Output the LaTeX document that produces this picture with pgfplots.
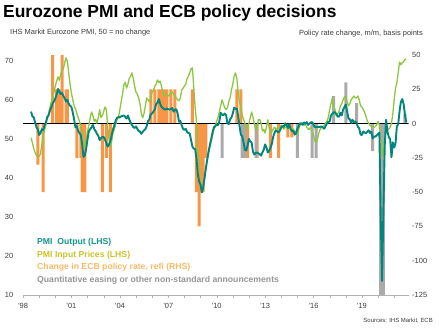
\documentclass[border=0pt]{standalone}
\usepackage{fontspec}
\setmainfont{Liberation Sans}
\usepackage{pgfplots}
\usepackage{pgfplotstable}
\pgfplotsset{compat=1.18}
\definecolor{tealc}{RGB}{0,134,126}
\definecolor{greenc}{RGB}{141,198,63}
\definecolor{orangec}{RGB}{247,150,70}
\definecolor{grayc}{RGB}{170,170,170}
\definecolor{legteal}{RGB}{20,150,140}
\definecolor{legyel}{RGB}{200,195,40}
\definecolor{legora}{RGB}{250,185,100}
\definecolor{leggray}{RGB}{150,150,150}
\definecolor{txt}{RGB}{60,60,60}

\pgfplotstableread{
t out inp
1998.500 57.0 50.3
1998.583 55.8 49.0
1998.667 55.5 47.5
1998.750 54.2 46.5
1998.833 53.0 45.8
1998.917 52.5 45.4
1999.000 51.0 45.5
1999.083 51.5 46.2
1999.167 52.5 48.5
1999.250 52.3 51.0
1999.333 53.4 52.3
1999.417 54.2 53.5
1999.500 55.6 55.0
1999.583 56.0 56.5
1999.667 57.2 58.0
1999.750 58.1 59.5
1999.833 59.0 60.5
1999.917 59.6 62.0
2000.000 60.3 63.5
2000.083 61.4 64.8
2000.167 62.8 65.9
2000.250 62.2 65.0
2000.333 61.5 66.5
2000.417 61.8 67.5
2000.500 61.0 68.0
2000.583 60.4 69.5
2000.667 59.6 70.8
2000.750 60.0 69.8
2000.833 59.0 67.0
2000.917 58.5 64.0
2001.000 58.2 61.8
2001.083 56.8 60.0
2001.167 55.0 58.5
2001.250 53.0 57.8
2001.333 53.3 56.6
2001.417 52.0 55.5
2001.500 51.5 54.5
2001.583 51.0 53.2
2001.667 48.5 51.8
2001.750 45.4 49.0
2001.833 45.8 48.0
2001.917 47.5 49.5
2002.000 50.0 52.0
2002.083 52.0 53.5
2002.167 52.5 55.5
2002.250 53.0 56.9
2002.333 53.6 56.0
2002.417 52.5 54.5
2002.500 52.0 55.0
2002.583 51.3 54.0
2002.667 50.8 55.5
2002.750 49.7 57.5
2002.833 50.2 55.5
2002.917 50.5 56.0
2003.000 50.5 57.0
2003.083 49.8 58.2
2003.167 48.9 57.5
2003.250 48.0 53.0
2003.333 48.6 49.8
2003.417 49.5 48.0
2003.500 51.0 49.5
2003.583 52.5 51.8
2003.667 53.6 52.5
2003.750 54.8 53.8
2003.833 55.4 55.0
2003.917 55.6 55.5
2004.000 55.5 57.5
2004.083 55.8 59.5
2004.167 55.9 61.5
2004.250 56.0 63.8
2004.333 55.7 64.5
2004.417 55.2 63.0
2004.500 56.0 64.0
2004.583 55.0 65.5
2004.667 54.2 66.0
2004.750 53.6 66.9
2004.833 53.0 65.5
2004.917 52.8 63.5
2005.000 53.2 62.0
2005.083 52.6 61.5
2005.167 52.0 60.5
2005.250 51.9 59.0
2005.333 51.3 56.5
2005.417 51.8 55.4
2005.500 52.2 56.5
2005.583 52.5 58.5
2005.667 53.3 60.5
2005.750 54.6 60.0
2005.833 55.0 59.5
2005.917 56.4 60.5
2006.000 56.5 62.0
2006.083 57.0 62.5
2006.167 57.6 63.5
2006.250 58.9 64.0
2006.333 59.3 65.1
2006.417 60.2 64.5
2006.500 59.0 64.8
2006.583 58.2 63.5
2006.667 57.9 62.0
2006.750 57.6 61.0
2006.833 57.5 61.3
2006.917 57.8 61.5
2007.000 57.6 61.0
2007.083 57.5 61.3
2007.167 57.7 61.8
2007.250 57.9 62.0
2007.333 57.0 61.5
2007.417 57.5 61.0
2007.500 57.6 60.5
2007.583 56.5 60.0
2007.667 54.4 59.8
2007.750 54.6 60.5
2007.833 53.5 62.5
2007.917 52.6 63.0
2008.000 52.3 63.5
2008.083 52.6 64.0
2008.167 51.8 65.5
2008.250 51.5 66.0
2008.333 51.4 67.0
2008.417 49.6 68.0
2008.500 48.0 68.2
2008.583 47.5 63.0
2008.667 47.4 58.0
2008.750 45.0 54.4
2008.833 41.0 47.2
2008.917 39.0 41.0
2009.000 38.3 38.5
2009.083 36.3 36.9
2009.167 37.5 37.5
2009.250 40.0 40.0
2009.333 42.5 42.5
2009.417 44.8 44.5
2009.500 46.7 46.5
2009.583 48.5 48.0
2009.667 50.1 49.5
2009.750 51.8 51.0
2009.833 53.0 52.5
2009.917 53.3 53.1
2010.000 53.6 54.5
2010.083 53.5 55.5
2010.167 54.5 57.0
2010.250 56.7 58.5
2010.333 56.2 60.0
2010.417 56.1 59.0
2010.500 56.5 58.0
2010.583 56.1 57.5
2010.667 54.0 58.0
2010.750 53.8 59.5
2010.833 55.0 60.5
2010.917 55.5 62.5
2011.000 56.5 64.0
2011.083 58.0 66.0
2011.167 57.7 66.9
2011.250 57.8 65.5
2011.333 55.8 62.0
2011.417 53.3 59.2
2011.500 51.1 58.5
2011.583 50.7 56.0
2011.667 49.1 55.0
2011.750 47.2 54.0
2011.833 47.0 52.3
2011.917 48.3 53.0
2012.000 50.0 54.0
2012.083 49.3 55.5
2012.167 49.1 56.9
2012.250 46.7 55.5
2012.333 46.0 54.0
2012.417 46.4 52.3
2012.500 46.5 53.0
2012.583 46.3 54.9
2012.667 46.1 55.0
2012.750 45.7 54.0
2012.833 46.5 52.0
2012.917 47.2 52.5
2013.000 48.6 51.5
2013.083 47.9 53.0
2013.167 46.5 54.9
2013.250 46.9 53.0
2013.333 47.7 51.5
2013.417 48.7 51.8
2013.500 50.5 52.5
2013.583 51.5 53.0
2013.667 52.2 52.5
2013.750 51.9 52.8
2013.833 51.7 52.5
2013.917 52.1 53.0
2014.000 52.9 53.5
2014.083 53.3 53.0
2014.167 53.1 52.5
2014.250 54.0 53.0
2014.333 53.5 52.8
2014.417 52.8 53.0
2014.500 53.8 53.2
2014.583 52.5 52.5
2014.667 52.0 52.8
2014.750 52.1 52.5
2014.833 51.1 52.0
2014.917 51.4 51.5
2015.000 52.6 51.0
2015.083 53.3 52.5
2015.167 54.0 53.5
2015.250 53.9 54.0
2015.333 53.6 54.2
2015.417 54.2 53.5
2015.500 53.9 53.8
2015.583 54.3 53.0
2015.667 53.6 52.5
2015.750 53.9 52.5
2015.833 54.2 53.0
2015.917 54.3 52.0
2016.000 53.6 51.0
2016.083 53.0 49.5
2016.167 53.1 49.0
2016.250 53.0 50.0
2016.333 53.1 51.5
2016.417 53.1 52.5
2016.500 53.2 53.0
2016.583 52.9 53.2
2016.667 52.6 53.5
2016.750 53.3 54.0
2016.833 53.9 54.5
2016.917 54.4 55.5
2017.000 54.4 57.5
2017.083 56.0 59.0
2017.167 56.4 60.5
2017.250 56.8 58.5
2017.333 56.8 57.5
2017.417 56.3 56.0
2017.500 55.7 56.5
2017.583 55.7 57.0
2017.667 56.7 58.5
2017.750 56.0 59.0
2017.833 57.5 60.0
2017.917 58.1 60.8
2018.000 58.8 60.8
2018.083 57.1 59.5
2018.167 55.2 58.5
2018.250 55.1 59.0
2018.333 54.1 60.0
2018.417 54.9 60.5
2018.500 54.3 61.0
2018.583 54.5 60.5
2018.667 54.1 60.5
2018.750 53.1 61.0
2018.833 52.7 60.0
2018.917 51.1 58.5
2019.000 51.0 58.2
2019.083 51.9 57.5
2019.167 51.6 56.8
2019.250 51.5 55.8
2019.333 51.8 54.6
2019.417 52.2 54.0
2019.500 51.5 53.5
2019.583 51.9 53.2
2019.667 50.1 53.0
2019.750 50.6 53.0
2019.833 50.6 53.2
2019.917 50.9 53.6
2020.000 51.3 54.5
2020.083 51.6 53.5
2020.167 29.7 48.0
2020.250 13.6 45.4
2020.333 31.9 48.5
2020.417 48.5 50.5
2020.500 54.9 53.0
2020.583 51.9 52.5
2020.667 50.4 52.5
2020.750 50.0 53.0
2020.833 45.3 54.0
2020.917 49.1 56.5
2021.000 47.8 60.0
2021.083 48.8 63.0
2021.167 53.2 64.4
2021.250 53.8 67.0
2021.333 57.1 69.7
2021.417 59.5 69.0
2021.500 60.2 69.5
2021.583 59.0 69.8
2021.667 56.2 70.3
2021.750 54.2 70.5
}\pmi

\begin{document}
\begin{tikzpicture}
\path[use as bounding box] (0,0) rectangle (439bp,-329bp);
% right axis: policy bars
\begin{axis}[
  at={(23bp,-295bp)}, anchor=south west,
  scale only axis, width=385.7bp, height=240bp,
  xmin=1998, xmax=2021.9, ymin=-125, ymax=50,
  axis x line=none, axis y line*=right,
  y axis line style={draw=none},
  ytick={-125,-100,...,50}, ytick style={draw=none},
  major tick length=0pt,
  /pgf/number format/assume math mode=true,
  yticklabel style={anchor=west, inner sep=0pt, xshift=3.3bp,
    font=\fontsize{7.5}{9}\selectfont, text=txt},
]
\addplot[ybar, bar width=3bp, bar shift=0pt, fill=orangec, draw=none] coordinates {
(1998.917,-30) (1999.250,-50) (1999.833,50) (2000.083,25) (2000.167,25)
(2000.250,25) (2000.417,50) (2000.667,25) (2000.750,25) (2001.333,-25)
(2001.583,-25) (2001.667,-50) (2001.833,-50) (2002.917,-50) (2003.167,-25)
(2003.417,-50) (2005.917,25) (2006.167,25) (2006.417,25) (2006.583,25)
(2006.750,25) (2006.917,25) (2007.167,25) (2007.417,25) (2008.500,25)
(2008.750,-50) (2008.833,-50) (2008.917,-75) (2009.000,-50) (2009.167,-50)
(2009.250,-25) (2009.333,-25) (2011.250,25) (2011.500,25) (2011.833,-25)
(2011.917,-25) (2012.500,-25) (2013.333,-25) (2013.833,-25) (2014.417,-10)
(2014.667,-10) (2016.167,-5)};
\addplot[ybar, bar width=3bp, bar shift=0pt, fill=grayc, draw=none] coordinates {
(2010.333,-25) (2011.583,-25) (2011.750,-25) (2012.450,-25) (2015.000,-25)
(2015.917,-25) (2016.167,-25) (2017.250,20) (2018.000,30) (2018.667,15)
(2019.667,-20) (2020.167,-125) (2020.333,-125) (2021.667,7)};
\addplot[black, line width=0.8bp] coordinates {(1998,0) (2021.9,0)};
\end{axis}
% left axis: PMI lines
\begin{axis}[
  at={(23bp,-295bp)}, anchor=south west,
  scale only axis, width=385.7bp, height=240bp,
  xmin=1998, xmax=2021.9, ymin=10, ymax=71.5,
  axis x line*=bottom, axis y line*=left,
  y axis line style={draw=none},
  x axis line style={draw=black!30, -},
  ytick={10,20,...,70}, ytick style={draw=none},
  xtick={1998,2001,2004,2007,2010,2013,2016,2019},
  xticklabels={'98,'01,'04,'07,'10,'13,'16,'19},
  minor xtick={1999,2000,2002,2003,2005,2006,2008,2009,2011,2012,2014,2015,2017,2018,2020,2021},
  xtick style={draw=black!30},
  tick align=outside, major tick length=2.5bp, minor tick length=2.5bp,
  /pgf/number format/assume math mode=true,
  yticklabel style={anchor=east, inner sep=0pt, xshift=-7bp,
    font=\fontsize{7.5}{9}\selectfont, text=txt},
  xticklabel style={anchor=north, inner sep=0pt, yshift=-5.5bp,
    font=\fontsize{7.5}{9}\selectfont, text=txt},
]
\addplot[greenc, line width=1.3bp, line join=round] table[x=t, y=inp] {\pmi};
\addplot[tealc, line width=1.9bp, line join=round] table[x=t, y=out] {\pmi};
\end{axis}
% texts
\node[anchor=base west, inner sep=0pt, font=\bfseries\fontsize{17.5}{20}\selectfont] at (3bp,-17.3bp) {Eurozone PMI and ECB policy decisions};
\node[anchor=base west, inner sep=0pt, font=\fontsize{7.5}{9}\selectfont, text=txt] at (10bp,-34.5bp) {IHS Markit Eurozone PMI, 50 = no change};
\node[anchor=base east, inner sep=0pt, font=\fontsize{7.5}{9}\selectfont, text=txt] at (423bp,-35bp) {Policy rate change, m/m, basis points};
\node[anchor=base east, inner sep=0pt, font=\fontsize{6}{7}\selectfont, text=txt] at (433bp,-322bp) {Sources: IHS Markit, ECB};
\node[anchor=base west, inner sep=0pt, font=\bfseries\fontsize{8.7}{10}\selectfont, text=legteal] at (37bp,-244.5bp) {PMI\ \ Output (LHS)};
\node[anchor=base west, inner sep=0pt, font=\bfseries\fontsize{8.7}{10}\selectfont, text=legyel] at (37bp,-257bp) {PMI Input Prices (LHS)};
\node[anchor=base west, inner sep=0pt, font=\bfseries\fontsize{8.7}{10}\selectfont, text=legora] at (37bp,-269.5bp) {Change in ECB policy rate, refi (RHS)};
\node[anchor=base west, inner sep=0pt, font=\bfseries\fontsize{8.7}{10}\selectfont, text=leggray] at (37bp,-282bp) {Quantitative easing or other non-standard announcements};
\end{tikzpicture}
\end{document}
